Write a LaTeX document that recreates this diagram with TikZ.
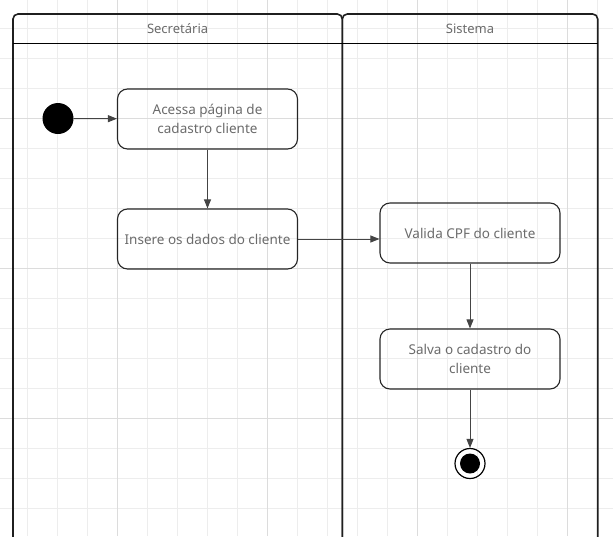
\documentclass[tikz,border=0pt]{standalone}
\usepackage{fontspec}
\setmainfont{Noto Sans}
\usepackage{tikz}
\usetikzlibrary{arrows.meta}
\usetikzlibrary{positioning}

\definecolor{gridminor}{HTML}{EDEDED}
\definecolor{gridmajor}{HTML}{DCDCDC}
\definecolor{textgray}{HTML}{6B6B6B}
\definecolor{edgegray}{HTML}{444444}

\tikzset{
	activity/.style = {draw=black!85, line width=1.1pt, rounded corners=10pt,
		minimum width=180pt, minimum height=60pt, align=center, inner sep=2pt,
		text=textgray, font=\fontsize{13.5}{19.5}\selectfont},
	lanehead/.style = {text=textgray, font=\fontsize{13}{15}\selectfont},
	lane/.style = {draw=black!88, line width=1.6pt, rounded corners=5pt},
	flow/.style = {draw=edgegray, line width=0.9pt, -{Triangle[length=9pt,width=7pt]}}
}

\begin{document}
\begin{tikzpicture}[x=1pt, y=-1pt]
	\useasboundingbox (0,0) rectangle (613,536);
	% grid
	\foreach \gx in {27.3,57.3,...,597.3}
		\draw[gridminor, line width=0.8pt] (\gx,0) -- (\gx,536);
	\foreach \gy in {28.3,58.3,...,536}
		\draw[gridminor, line width=0.8pt] (0,\gy) -- (613,\gy);
	\foreach \gx in {117.3,267.3,417.3,567.3}
		\draw[gridmajor, line width=0.8pt] (\gx,0) -- (\gx,536);
	\foreach \gy in {118.3,268.3,418.3}
		\draw[gridmajor, line width=0.8pt] (0,\gy) -- (613,\gy);

	% swimlanes
	\draw[lane] (13,560) -- (13,14) -- (342.3,14) -- (342.3,560);
	\draw[lane] (342.3,560) -- (342.3,14) -- (597.7,14) -- (597.7,560);
	\draw[black, line width=1.9pt] (13,43.5) -- (597.7,43.5);
	\node[lanehead] (secretaria) at (177.6,29) {Secretária};
	\node[lanehead] (sistema) at (470,29) {Sistema};

	% nodes
	\node[circle, fill=black, minimum size=31pt, inner sep=0pt] (start) at (58,118.5) {};
	\node[activity] (acessa) at (207.5,119) {Acessa página de\\cadastro cliente};
	\node[activity] (insere) at (207.5,239) {Insere os dados do cliente};
	\node[activity] (valida) at (470,233) {Valida CPF do cliente};
	\node[activity] (salva) at (470,359) {Salva o cadastro do\\cliente};
	\node[circle, draw=black, line width=1.2pt, minimum size=30pt, inner sep=0pt] (fim) at (470,463.5) {};
	\fill[black] (fim.center) circle (10pt);

	% edges
	\draw[flow] (start) -- (acessa);
	\draw[flow] (acessa) -- (insere);
	\draw[flow] (insere.east) -- (insere.east -| valida.west);
	\draw[flow] (valida) -- (salva);
	\draw[flow] (salva) -- (fim);
\end{tikzpicture}
\end{document}
